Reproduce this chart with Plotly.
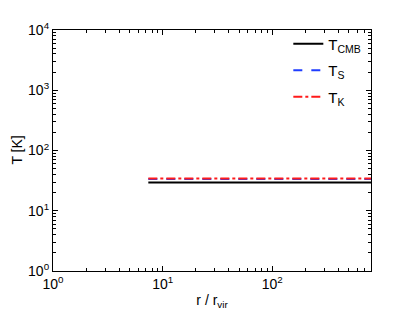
import plotly.graph_objects as go

# radius range of the profile (r / r_vir)
r_vals = [7.4, 794]
# temperatures [K]
t_cmb = [29.4, 29.4]
t_spin = [33.6, 33.6]
t_kin = [34.2, 34.2]

x_major = [1, 10, 100]
x_major_text = ["10<sup>0</sup>", "10<sup>1</sup>", "10<sup>2</sup>"]
y_major = [1, 10, 100, 1000, 10000]
y_major_text = ["10<sup>0</sup>", "10<sup>1</sup>", "10<sup>2</sup>", "10<sup>3</sup>", "10<sup>4</sup>"]

x_minor = [m * 10 ** k for k in range(0, 3) for m in range(2, 10)]
y_minor = [m * 10 ** k for k in range(0, 4) for m in range(2, 10)]

fig = go.Figure()
fig.add_trace(go.Scatter(x=r_vals, y=t_cmb, mode="lines", name="T<sub>CMB</sub>",
                         legendgroup="a", line=dict(color="black", width=2)))
fig.add_trace(go.Scatter(x=r_vals, y=t_spin, mode="lines", name="T<sub>S</sub>",
                         legendgroup="b", line=dict(color="#1f3dff", width=2, dash="dash")))
fig.add_trace(go.Scatter(x=r_vals, y=t_kin, mode="lines", name="T<sub>K</sub>",
                         legendgroup="c", line=dict(color="#ff1a1a", width=2, dash="dashdot")))

axis_common = dict(
    showgrid=False, zeroline=False, showline=True, linecolor="black", linewidth=1.2,
    mirror="ticks", ticks="inside", ticklen=5, tickcolor="black", tickwidth=1,
    tickfont=dict(size=14, color="black"),
)

# page body has an 8px margin, so the figure is shrunk and margins shifted
fig.update_layout(
    width=393, height=311,
    paper_bgcolor="white", plot_bgcolor="white",
    font=dict(family="Liberation Sans, Arial, sans-serif", size=14, color="black"),
    margin=dict(l=45, r=30, t=16, b=48),
    xaxis=dict(type="log", range=[0, 2.9], tickmode="array", tickvals=x_major,
               ticktext=x_major_text,
               minor=dict(tickmode="array", tickvals=x_minor, ticks="inside",
                          ticklen=3, tickcolor="black"),
               title=dict(text="r / r<sub>vir</sub>", standoff=4, font=dict(size=14)),
               **axis_common),
    yaxis=dict(type="log", range=[0, 4], tickmode="array", tickvals=y_major,
               ticktext=y_major_text,
               minor=dict(tickmode="array", tickvals=y_minor, ticks="inside",
                          ticklen=3, tickcolor="black"),
               **axis_common),
    legend=dict(x=0.74, y=1.01, xanchor="left", yanchor="top",
                bgcolor="rgba(0,0,0,0)", font=dict(size=15),
                itemwidth=30, traceorder="grouped", tracegroupgap=4),
    showlegend=True,
)

# y-axis title placed a bit further left, as in the original
fig.add_annotation(text="T [K]", xref="paper", yref="paper", x=-0.116, y=0.5,
                   textangle=-90, showarrow=False, xanchor="center", yanchor="middle",
                   font=dict(size=14, color="black"))

fig.write_html("out.html")
